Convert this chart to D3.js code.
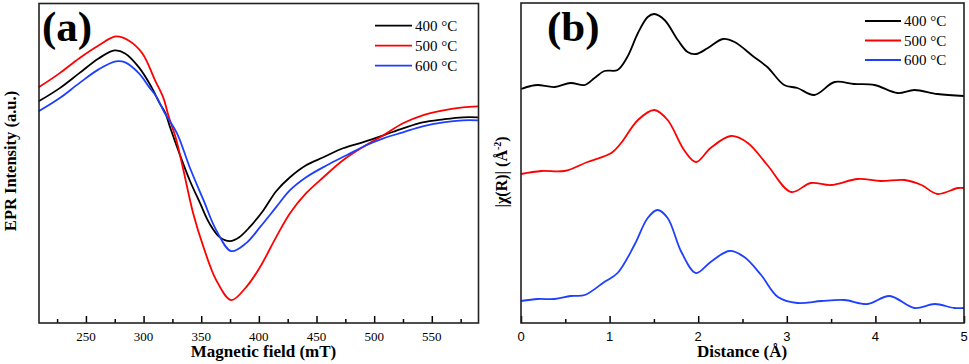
<!DOCTYPE html>
<html>
<head>
<meta charset="utf-8">
<script src="https://cdn.jsdelivr.net/npm/d3@7"></script>
<style>
  body { margin: 0; background: #fff; }
  svg { display: block; }
</style>
</head>
<body>
<svg id="chart" width="969" height="364"></svg>
<script>
// ---------- Panel (a): EPR spectra ----------
const eprFieldBlack = [209,227,244,261,275,284,296,307,314,319,323,331,340,349,357,366,375,383,392,404,415,427,441,456,473,490,508,525,542,560,577,590];
const eprBlack      = [222,235,250,265,273,270,256,236,220,210,196,170,143,120,100,86,82,86,96,113,132,146,158,166,175,181,188,195,201,204,206,206];
const eprFieldRed   = [209,227,244,261,276,287,299,310,317,322,328,334,343,352,363,376,389,401,415,427,441,456,473,490,508,525,542,560,577,590];
const eprRed        = [236,250,265,278,287,283,270,243,226,206,185,156,110,76,43,23,36,56,86,110,130,146,163,176,188,200,208,213,216,217];
const eprFieldBlue  = [209,227,244,261,276,284,296,305,311,318,329,340,352,363,376,389,401,415,427,441,459,476,493,508,525,542,560,577,590];
const eprBlue       = [212,225,240,254,262,261,250,236,227,211,190,156,123,93,72,80,96,116,133,146,158,168,178,185,191,197,201,203,203];
const eprTicks = [250,300,350,400,450,500,550];
const eprMinorTicks = [225,275,325,375,425,475,525,575];

// ---------- Panel (b): FT-EXAFS ----------
const rBlack = [0,0.11,0.19,0.38,0.56,0.72,0.83,0.94,1.09,1.20,1.32,1.43,1.505,1.62,1.77,1.88,1.975,2.11,2.28,2.41,2.63,2.78,2.97,3.12,3.31,3.54,3.76,3.99,4.25,4.44,4.70,5.0];
const chiBlack = [234,237,238,236,240,238,245,252,253,266,290,306,309,303,283,271,269,275,284,281,266,256,238,235,228,241,239,238,230,233,229,227];
const rRed = [0,0.23,0.49,0.75,1.02,1.13,1.32,1.505,1.655,1.84,1.975,2.14,2.37,2.56,2.78,3.05,3.27,3.50,3.80,4.06,4.33,4.52,4.70,4.93,5.0];
const chiRed = [149,152,152,161,170,180,203,213,203,173,161,175,187,180,158,131,140,138,144,142,143,138,129,135,135];
const rBlue = [0,0.19,0.38,0.56,0.72,0.94,1.09,1.28,1.43,1.54,1.655,1.81,1.975,2.14,2.35,2.52,2.71,2.90,3.12,3.39,3.65,3.91,4.16,4.44,4.67,4.89,5.0];
const chiBlue = [22,24,24,27,28,41,50,78,105,113,105,71,50,61,72,66,48,26,20,22,23,19,27,15,19,15,15];
const rTicks = [0,1,2,3,4,5];
const rMinorTicks = [0.5,1.5,2.5,3.5,4.5];

const seriesNames = ["400 °C","500 °C","600 °C"];
const seriesColors = ["#000000","#ff0000","#1f3fff"];

const svg = d3.select("#chart");
const serif = "'Liberation Serif','Times New Roman',serif";
const sans = "'Liberation Sans',Arial,sans-serif";

function zip(xs, ys) { return xs.map((x, i) => [x, ys[i]]); }

function drawPanel(opts) {
  const g = svg.append("g");
  const x = d3.scaleLinear().domain(opts.xDomain).range([opts.left, opts.right]);
  const y = d3.scaleLinear().domain([0, 320]).range([opts.bottom, opts.top]);

  const line = d3.line().x(d => x(d[0])).y(d => y(d[1])).curve(d3.curveCatmullRom.alpha(0.5));
  opts.series.forEach((s, i) => {
    g.append("path")
      .attr("d", line(s))
      .attr("fill", "none")
      .attr("stroke", seriesColors[i])
      .attr("stroke-width", 1.8)
      .attr("stroke-linejoin", "round");
  });

  // major ticks (inward)
  const axMajor = d3.axisBottom(x).tickValues(opts.ticks).tickSize(-7).tickFormat("");
  const ax = g.append("g").attr("transform", `translate(0,${opts.bottom})`).call(axMajor);
  ax.select(".domain").remove();
  ax.selectAll("line").attr("stroke", "#000").attr("stroke-width", 1.5);
  // minor ticks
  const axMinor = d3.axisBottom(x).tickValues(opts.minor).tickSize(-4).tickFormat("");
  const axm = g.append("g").attr("transform", `translate(0,${opts.bottom})`).call(axMinor);
  axm.select(".domain").remove();
  axm.selectAll("line").attr("stroke", "#000").attr("stroke-width", 1.5);

  g.selectAll("text.ticklab").data(opts.ticks).enter().append("text")
    .attr("class", "ticklab")
    .attr("x", d => x(d)).attr("y", opts.bottom + 17.5)
    .attr("text-anchor", "middle")
    .attr("font-family", opts.tickFont)
    .attr("font-size", 13)
    .text(d => d);

  // frame
  g.append("rect")
    .attr("x", opts.left).attr("y", opts.top)
    .attr("width", opts.right - opts.left).attr("height", opts.bottom - opts.top)
    .attr("fill", "none").attr("stroke", "#222").attr("stroke-width", 1.6);

  // panel label
  g.append("text")
    .attr("x", opts.labelX).attr("y", 41)
    .attr("font-family", serif).attr("font-weight", "bold").attr("font-size", 43)
    .text(opts.label);

  // legend
  seriesNames.forEach((n, i) => {
    const ly = opts.legY + i * opts.legGap;
    g.append("line")
      .attr("x1", opts.legX1).attr("x2", opts.legX2)
      .attr("y1", ly).attr("y2", ly)
      .attr("stroke", seriesColors[i]).attr("stroke-width", 1.8);
    g.append("text")
      .attr("x", opts.legX2 + 3).attr("y", ly + 5)
      .attr("font-family", serif).attr("font-size", 15)
      .text(n);
  });

  // x title
  g.append("text")
    .attr("x", opts.xTitleX).attr("y", 357)
    .attr("text-anchor", "middle")
    .attr("font-family", serif).attr("font-weight", "bold").attr("font-size", 17)
    .text(opts.xTitle);
  return g;
}

const gA = drawPanel({
  left: 39, right: 478.5, top: 3.5, bottom: 323,
  xDomain: [209.3, 590.5],
  series: [zip(eprFieldBlack, eprBlack), zip(eprFieldRed, eprRed), zip(eprFieldBlue, eprBlue)],
  ticks: eprTicks, minor: eprMinorTicks, tickFont: serif,
  label: "(a)", labelX: 42,
  legX1: 375, legX2: 412, legY: 25.7, legGap: 20,
  xTitle: "Magnetic field (mT)", xTitleX: 263.5
});
gA.append("text")
  .attr("transform", "translate(16,161) rotate(-90)")
  .attr("text-anchor", "middle")
  .attr("font-family", serif).attr("font-weight", "bold").attr("font-size", 16.5)
  .text("EPR Intensity (a.u.)");

const gB = drawPanel({
  left: 521, right: 964, top: 3, bottom: 323,
  xDomain: [0, 5],
  series: [zip(rBlack, chiBlack), zip(rRed, chiRed), zip(rBlue, chiBlue)],
  ticks: rTicks, minor: rMinorTicks, tickFont: sans,
  label: "(b)", labelX: 547,
  legX1: 865, legX2: 901, legY: 21, legGap: 19.5,
  xTitle: "Distance (Å)", xTitleX: 742
});
const yb = gB.append("text")
  .attr("transform", "translate(507,172) rotate(-90)")
  .attr("text-anchor", "middle")
  .attr("font-family", serif).attr("font-weight", "bold").attr("font-size", 16);
yb.append("tspan").text("|χ(R)| (Å");
yb.append("tspan").attr("font-size", 10).attr("dy", -6).text("-2");
yb.append("tspan").attr("dy", 6).text(")");
</script>
</body>
</html>
